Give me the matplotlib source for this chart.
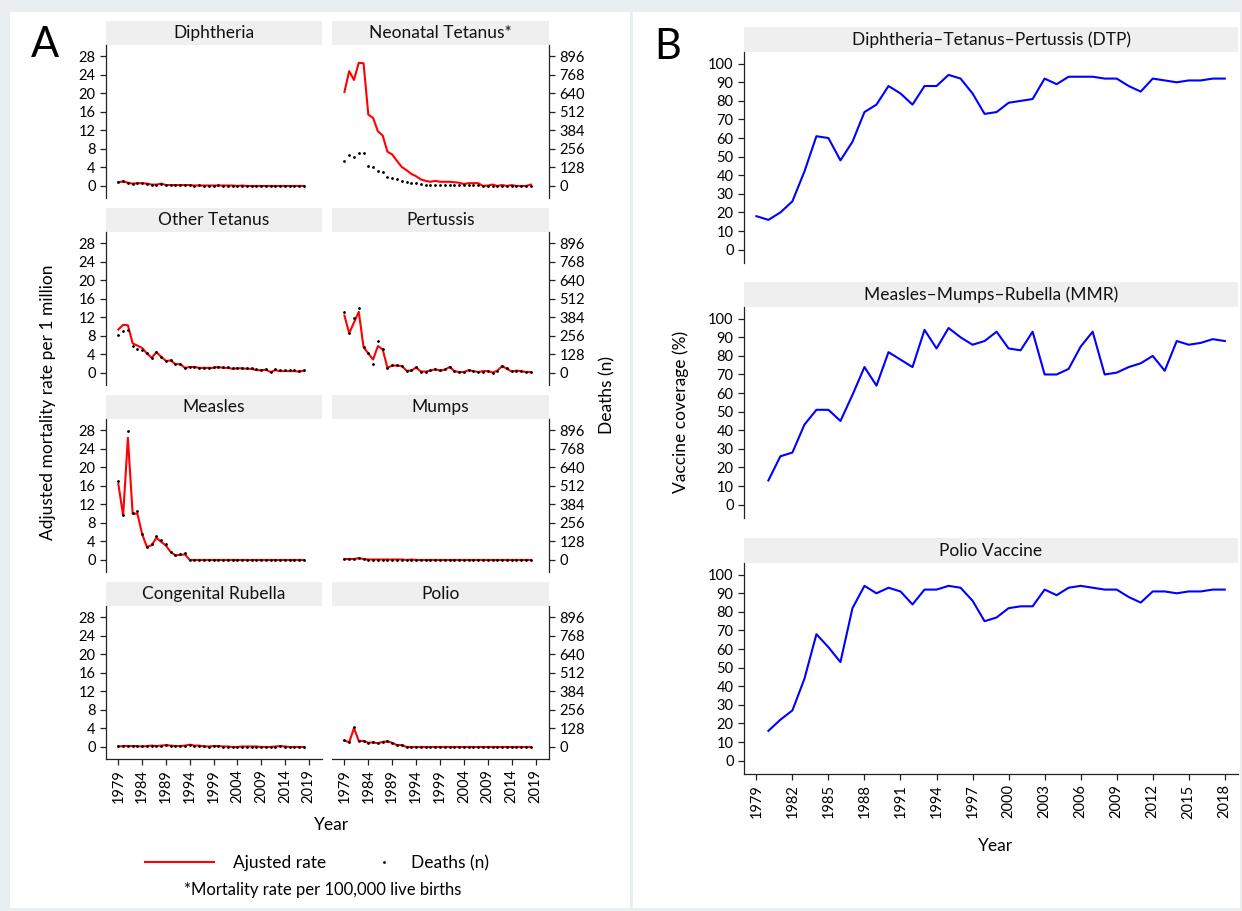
import matplotlib
matplotlib.use("Agg")
import matplotlib.pyplot as plt
from matplotlib.patches import Rectangle
from matplotlib.lines import Line2D

plt.rcParams['font.family'] = ['Lato', 'DejaVu Sans']

W, H = 1242, 911

years = list(range(1979, 2019))

# panel A: adjusted mortality rate (per 1 million) and deaths (n)
diph_rate = [0.8, 1.0, 0.7, 0.5, 0.6, 0.6, 0.5, 0.3, 0.3, 0.5, 0.2, 0.2, 0.2, 0.2, 0.2, 0.2, 0.1, 0.1, 0.1, 0.1,
             0.1, 0.1, 0.1, 0.1, 0.1, 0.0, 0.1, 0.0, 0.0, 0.0, 0.0, 0.0, 0.0, 0.0, 0.0, 0.0, 0.0, 0.0, 0.0, 0.0]
diph_deaths = [28, 33, 22, 17, 20, 19, 16, 10, 10, 17, 7, 7, 7, 6, 7, 6, 3, 4, 3, 3,
               3, 4, 3, 3, 3, 1, 2, 1, 1, 1, 1, 0, 1, 1, 0, 1, 0, 1, 0, 1]

neo_rate = [20.3, 24.8, 22.9, 26.6, 26.5, 15.4, 14.7, 11.8, 10.9, 7.4, 6.8, 5.4, 4.1, 3.4, 2.6, 2.1, 1.4, 1.1, 0.9, 1.1,
            0.9, 0.9, 0.9, 0.8, 0.7, 0.4, 0.6, 0.6, 0.6, 0.0, 0.1, 0.3, 0.0, 0.2, 0.0, 0.2, 0.0, 0.0, 0.0, 0.3]
neo_deaths = [171, 215, 199, 231, 231, 135, 128, 103, 94, 64, 55, 46, 37, 30, 23, 18, 14, 9, 7, 7,
              5, 5, 5, 5, 5, 5, 5, 5, 5, 2, 2, 3, 1, 2, 1, 2, 1, 1, 1, 2]

otet_rate = [9.4, 10.4, 10.3, 6.4, 5.9, 5.4, 4.2, 3.3, 4.5, 3.5, 2.6, 2.7, 1.9, 1.9, 1.1, 1.3, 1.3, 1.1, 1.1, 1.1,
             1.1, 1.3, 1.1, 1.1, 0.9, 1.0, 1.0, 0.9, 0.9, 0.6, 0.6, 0.7, 0.2, 0.6, 0.4, 0.4, 0.4, 0.4, 0.3, 0.5]
otet_deaths = [261, 290, 299, 185, 167, 158, 135, 103, 142, 110, 82, 87, 59, 64, 37, 43, 43, 37, 37, 37,
               39, 43, 39, 39, 32, 37, 37, 32, 32, 25, 21, 25, 7, 27, 21, 21, 21, 18, 14, 21]

pert_rate = [12.4, 8.6, 10.9, 13.2, 5.6, 4.2, 2.9, 5.8, 5.1, 1.1, 1.6, 1.6, 1.5, 0.5, 0.5, 1.2, 0.3, 0.3, 0.5, 0.8,
             0.5, 0.7, 1.3, 0.4, 0.2, 0.2, 0.6, 0.4, 0.2, 0.4, 0.4, 0.1, 0.5, 1.5, 0.9, 0.3, 0.5, 0.4, 0.2, 0.2]
pert_deaths = [418, 274, 379, 446, 178, 139, 62, 224, 167, 37, 55, 53, 50, 16, 18, 41, 9, 9, 18, 27,
               18, 27, 43, 16, 7, 7, 23, 11, 9, 9, 11, 2, 16, 50, 32, 11, 16, 11, 7, 7]

meas_rate = [16.4, 9.6, 26.4, 10.0, 10.0, 5.6, 2.8, 3.2, 4.8, 3.9, 3.1, 1.7, 1.0, 1.1, 1.2, 0.0, 0.0, 0.0, 0.0, 0.0,
             0.0, 0.0, 0.0, 0.0, 0.0, 0.0, 0.0, 0.0, 0.0, 0.0, 0.0, 0.0, 0.0, 0.0, 0.0, 0.0, 0.0, 0.0, 0.0, 0.0]
meas_deaths = [546, 313, 889, 327, 336, 178, 89, 112, 169, 135, 107, 53, 34, 41, 46, 0, 0, 0, 0, 0,
               0, 0, 0, 0, 0, 0, 0, 0, 0, 0, 0, 0, 0, 0, 0, 0, 0, 0, 0, 0]

mump_rate = [0.2, 0.2, 0.2, 0.4, 0.2, 0.1, 0.1, 0.1, 0.1, 0.1, 0.1, 0.1, 0.1, 0.0, 0.1, 0.0, 0.0, 0.0, 0.0, 0.0,
             0.0, 0.0, 0.0, 0.0, 0.0, 0.0, 0.0, 0.0, 0.0, 0.0, 0.0, 0.0, 0.0, 0.0, 0.0, 0.0, 0.0, 0.0, 0.0, 0.0]
mump_deaths = [6, 5, 6, 12, 5, 3, 3, 2, 3, 2, 2, 2, 2, 1, 2, 1, 1, 1, 1, 1,
               0, 0, 0, 0, 0, 0, 0, 0, 0, 0, 0, 0, 0, 0, 0, 0, 0, 0, 0, 0]

crub_rate = [0.1, 0.2, 0.2, 0.2, 0.2, 0.1, 0.2, 0.3, 0.2, 0.3, 0.4, 0.3, 0.2, 0.2, 0.3, 0.5, 0.3, 0.3, 0.1, 0.1,
             0.2, 0.2, 0.1, 0.1, 0.0, 0.0, 0.1, 0.1, 0.1, 0.1, 0.0, 0.0, 0.0, 0.1, 0.2, 0.1, 0.0, 0.0, 0.0, 0.0]
crub_deaths = [4, 6, 7, 6, 6, 4, 7, 9, 7, 10, 12, 9, 7, 7, 9, 15, 9, 9, 4, 3,
               6, 6, 3, 3, 1, 1, 3, 3, 3, 3, 1, 1, 1, 3, 6, 3, 1, 1, 1, 1]

polio_rate = [1.4, 1.0, 4.1, 1.3, 1.3, 0.9, 1.0, 0.8, 1.1, 1.2, 0.9, 0.4, 0.4, 0.0, 0.0, 0.0, 0.0, 0.0, 0.0, 0.0,
              0.0, 0.0, 0.0, 0.0, 0.0, 0.0, 0.0, 0.0, 0.0, 0.0, 0.0, 0.0, 0.0, 0.0, 0.0, 0.0, 0.0, 0.0, 0.0, 0.0]
polio_deaths = [48, 33, 135, 43, 42, 30, 32, 26, 36, 40, 28, 14, 13, 0, 0, 0, 0, 0, 0, 0,
                0, 0, 0, 0, 0, 0, 0, 0, 0, 0, 0, 0, 0, 0, 0, 0, 0, 0, 0, 0]

diseases = ["Diphtheria", "Neonatal Tetanus*", "Other Tetanus", "Pertussis",
            "Measles", "Mumps", "Congenital Rubella", "Polio"]
rates = [diph_rate, neo_rate, otet_rate, pert_rate, meas_rate, mump_rate, crub_rate, polio_rate]
deaths = [diph_deaths, neo_deaths, otet_deaths, pert_deaths, meas_deaths, mump_deaths, crub_deaths, polio_deaths]

rate_ticks = [0, 4, 8, 12, 16, 20, 24, 28]
death_ticks = [0, 128, 256, 384, 512, 640, 768, 896]
a_xticks = [1979, 1984, 1989, 1994, 1999, 2004, 2009, 2014, 2019]

# panel B: vaccine coverage (%)
dtp_years = list(range(1979, 2019))
dtp_cov = [18, 16, 20, 26, 42, 61, 60, 48, 58, 74, 78, 88, 84, 78, 88, 88, 94, 92, 84, 73,
           74, 79, 80, 81, 92, 89, 93, 93, 93, 92, 92, 88, 85, 92, 91, 90, 91, 91, 92, 92]
mmr_years = list(range(1980, 2019))
mmr_cov = [13, 26, 28, 43, 51, 51, 45, 59, 74, 64, 82, 78, 74, 94, 84, 95, 90, 86, 88, 93,
           84, 83, 93, 70, 70, 73, 85, 93, 70, 71, 74, 76, 80, 72, 88, 86, 87, 89, 88]
polio_years = list(range(1980, 2019))
polio_cov = [16, 22, 27, 44, 68, 61, 53, 82, 94, 90, 93, 91, 84, 92, 92, 94, 93, 86, 75, 77,
             82, 83, 83, 92, 89, 93, 94, 93, 92, 92, 88, 85, 91, 91, 90, 91, 91, 92, 92]
vaccines = ["Diphtheria\u2013Tetanus\u2013Pertussis (DTP)", "Measles\u2013Mumps\u2013Rubella (MMR)", "Polio Vaccine"]
vac_years = [dtp_years, mmr_years, polio_years]
vac_cov = [dtp_cov, mmr_cov, polio_cov]
b_xticks = [1979, 1982, 1985, 1988, 1991, 1994, 1997, 2000, 2003, 2006, 2009, 2012, 2015, 2018]
b_yticks = [0, 10, 20, 30, 40, 50, 60, 70, 80, 90, 100]


def px(x0, y0, x1, y1):
    return [x0 / W, 1 - y1 / H, (x1 - x0) / W, (y1 - y0) / H]


def strip(x0, y0, x1, y1, label):
    s = fig.add_axes(px(x0, y0, x1, y1))
    s.set_facecolor('#efefef')
    for sp in s.spines.values():
        sp.set_visible(False)
    s.xaxis.set_visible(False)
    s.yaxis.set_visible(False)
    s.text(0.5, 0.5, label, ha='center', va='center', fontsize=12.5, color='#111111',
           transform=s.transAxes)


def style(a):
    for sp in a.spines.values():
        sp.set_visible(False)
        sp.set_linewidth(0.9)
        sp.set_color('#222222')
    a.tick_params(which='both', labelsize=tick_fs, width=0.9, length=4, color='#222222')


fig = plt.figure(figsize=(W / 100, H / 100), dpi=100)
fig.patch.set_facecolor('#e9eff1')
fig.patches.append(Rectangle((10 / W, 1 - 908 / H), 620 / W, 896 / H, transform=fig.transFigure,
                             facecolor='white', edgecolor='none', zorder=-5))
fig.patches.append(Rectangle((633 / W, 1 - 908 / H), 607 / W, 896 / H, transform=fig.transFigure,
                             facecolor='white', edgecolor='none', zorder=-5))

tick_fs = 10.5
# ---- Panel A ----
cols = [(106, 322), (332, 549)]
tops = [45, 232, 419, 606]
for i, name in enumerate(diseases):
    r, c = divmod(i, 2)
    x0, x1 = cols[c]
    y0 = tops[r]
    y1 = y0 + 153
    strip(x0, y0 - 24, x1, y0, name)
    pos = px(x0, y0, x1, y1)
    ax = fig.add_axes(pos)
    ax.set_facecolor('none')
    ax.plot(years, rates[i], color='#ff0000', lw=1.5, zorder=2)
    ax.set_xlim(1976.4, 2021.8)
    ax.set_ylim(-2.6, 30.45)
    ax2 = fig.add_axes(pos)
    ax2.set_facecolor('none')
    ax2.plot(years, deaths[i], linestyle='none', marker='.', markersize=2.0, color='black', zorder=3)
    ax2.set_xlim(1976.4, 2021.8)
    ax2.set_ylim(-2.6 * 32, 30.45 * 32)
    style(ax)
    style(ax2)
    ax2.xaxis.set_visible(False)
    if c == 0:
        ax.set_yticks(rate_ticks)
        ax.yaxis.set_ticks_position('left')
        ax.spines['left'].set_visible(True)
        ax2.yaxis.set_visible(False)
    else:
        ax.yaxis.set_visible(False)
        ax2.set_yticks(death_ticks)
        ax2.yaxis.set_ticks_position('right')
        ax2.spines['right'].set_visible(True)
    if r == 3:
        ax.spines['bottom'].set_visible(True)
        ax.set_xticks(a_xticks)
        ax.set_xticklabels([str(t) for t in a_xticks], rotation=90)
        ax.xaxis.set_ticks_position('bottom')
    else:
        ax.xaxis.set_visible(False)

fig.text(48 / W, 1 - 402 / H, "Adjusted mortality rate per 1 million", rotation=90,
         ha='center', va='center', fontsize=12.5)
fig.text(607 / W, 1 - 395 / H, "Deaths (n)", rotation=90, ha='center', va='center', fontsize=12.5)
fig.text(332 / W, 1 - 825 / H, "Year", ha='center', va='center', fontsize=12.5)
fig.text(45 / W, 1 - 45 / H, "A", ha='center', va='center', fontsize=30)

h_rate = Line2D([], [], color='#ff0000', lw=1.5)
h_death = Line2D([], [], linestyle='none', marker='.', markersize=2.0, color='black')
fig.legend([h_rate], ["Ajusted rate"], loc='center left', bbox_to_anchor=(138 / W, 1 - 863 / H),
           frameon=False, fontsize=12.5, handlelength=4.0, handletextpad=1.1, borderaxespad=0)
fig.legend([h_death], ["Deaths (n)"], loc='center left', bbox_to_anchor=(368 / W, 1 - 863 / H),
           frameon=False, fontsize=12.5, handlelength=1.0, handletextpad=1.1, borderaxespad=0)
fig.text(323 / W, 1 - 890 / H, "*Mortality rate per 100,000 live births", ha='center', va='center',
         fontsize=12)

# ---- Panel B ----
b_tops = [52, 307, 563]
for i, name in enumerate(vaccines):
    y0 = b_tops[i]
    y1 = y0 + 211
    strip(744, y0 - 25, 1238, y0, name)
    ax = fig.add_axes(px(744, y0, 1238, y1))
    ax.plot(vac_years[i], vac_cov[i], color='#0000ff', lw=1.5)
    ax.set_xlim(1977.97, 2019.1)
    ax.set_ylim(-7.2, 106.3)
    ax.set_yticks(b_yticks)
    for sp in ['top', 'right']:
        ax.spines[sp].set_visible(False)
    ax.tick_params(labelsize=tick_fs, width=0.9, length=4, color='#222222')
    if i == 2:
        ax.set_xticks(b_xticks)
        ax.set_xticklabels([str(t) for t in b_xticks], rotation=90)
    else:
        ax.spines['bottom'].set_visible(False)
        ax.xaxis.set_visible(False)
    for sp in ax.spines.values():
        sp.set_linewidth(0.9)
        sp.set_color('#222222')

fig.text(681 / W, 1 - 412 / H, "Vaccine coverage (%)", rotation=90, ha='center', va='center', fontsize=12.5)
fig.text(995 / W, 1 - 846 / H, "Year", ha='center', va='center', fontsize=12.5)
fig.text(668 / W, 1 - 47 / H, "B", ha='center', va='center', fontsize=30)

fig.savefig("out.png", dpi=100, facecolor=fig.get_facecolor())
